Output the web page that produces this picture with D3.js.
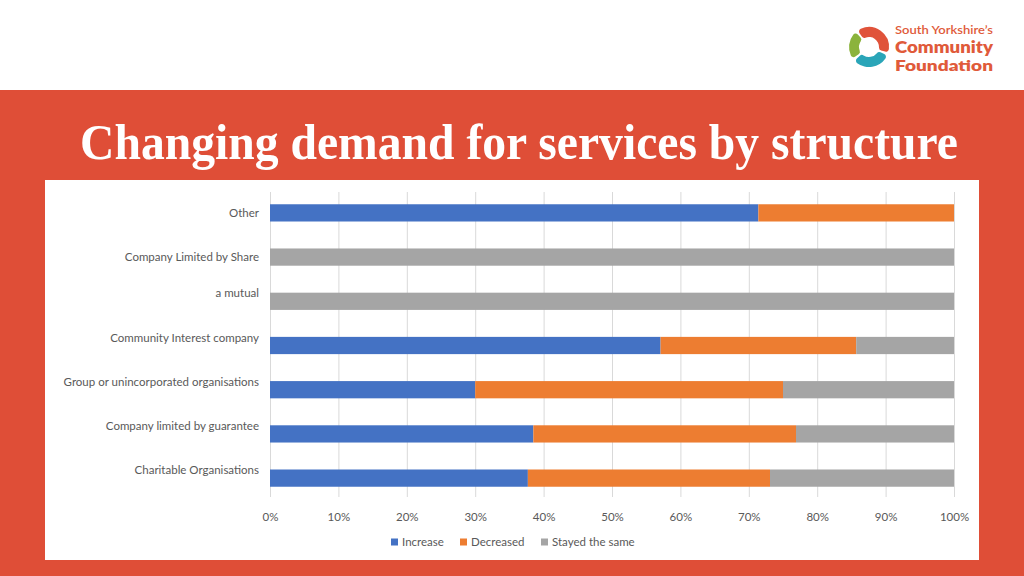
<!DOCTYPE html>
<html><head><meta charset="utf-8">
<script src="https://cdn.jsdelivr.net/npm/d3@7"></script>
<style>html,body{margin:0;padding:0;background:#fff;}svg{display:block;}</style>
</head><body>
<svg id="c" width="1024" height="576"></svg>
<script>
const categories = ["Other","Company Limited by Share","a mutual","Community Interest company","Group or unincorporated organisations","Company limited by guarantee","Charitable Organisations"];
const increase  = [71.4, 0, 0, 57.1, 30.0, 38.5, 37.7];
const decreased = [28.6, 0, 0, 28.6, 45.0, 38.4, 35.4];
const stayed    = [0, 100, 100, 14.3, 25.0, 23.1, 26.9];
const seriesNames = ["Increase","Decreased","Stayed the same"];
const seriesColors = ["#4472C4","#ED7D31","#A5A5A5"];
const ticks = [0,10,20,30,40,50,60,70,80,90,100];
const labelShift = [0,0,-8,-8,-8,-8,-8];

const svg = d3.select("#c");
const red = "#DF4E37";
svg.append("rect").attr("x",0).attr("y",0).attr("width",1024).attr("height",90).attr("fill","#fff");
svg.append("rect").attr("x",0).attr("y",90).attr("width",1024).attr("height",486).attr("fill",red);

// logo
const lg = svg.append("g");
const cx=869, cy=47;
const arc = d3.arc().innerRadius(10).outerRadius(20).cornerRadius(3);
lg.selectAll("path").data([
  {s:-0.6, e:1.85, c:"#E0533A"},
  {s:2.0, e:3.95, c:"#2AA5B8"},
  {s:4.1, e:5.55, c:"#8BB33C"}
]).join("path").attr("transform",`translate(${cx},${cy})`)
  .attr("d",d=>arc({startAngle:d.s,endAngle:d.e})).attr("fill",d=>d.c);
lg.append("text").attr("x",895).attr("y",34).attr("fill","#E05A3A")
  .attr("font-family","Lato").attr("font-weight",600).attr("font-size",12).attr("textLength",98).attr("lengthAdjust","spacingAndGlyphs").text("South Yorkshire\u2019s");
lg.append("text").attr("x",895).attr("y",53).attr("fill","#E05A3A")
  .attr("font-family","Lato").attr("font-weight",800).attr("font-size",16).attr("textLength",98).attr("lengthAdjust","spacingAndGlyphs").text("Community");
lg.append("text").attr("x",895).attr("y",71).attr("fill","#E05A3A")
  .attr("font-family","Lato").attr("font-weight",800).attr("font-size",15.5).attr("textLength",98).attr("lengthAdjust","spacingAndGlyphs").text("Foundation");

// title
svg.append("text").attr("x",80).attr("y",159).attr("fill","#fff")
  .attr("font-family","Liberation Serif").attr("font-weight","bold").attr("font-size",50)
  .attr("textLength",878).attr("lengthAdjust","spacingAndGlyphs")
  .text("Changing demand for services by structure");

// panel
svg.append("rect").attr("x",45).attr("y",180).attr("width",934).attr("height",380).attr("fill","#fff");

const x = d3.scaleLinear().domain([0,100]).range([270,954]);
const y = d3.scaleBand().domain(categories).range([191,500]).paddingInner(0.61).paddingOuter(0.3);

// gridlines
const gx = svg.append("g").attr("transform","translate(0,497)")
  .call(d3.axisBottom(x).tickValues(ticks).tickSize(-305).tickFormat(""));
gx.select(".domain").remove();
gx.selectAll(".tick line").attr("stroke","#D9D9D9").attr("stroke-width",1);

// bars
const rows = categories.map((c,i)=>({cat:c, Increase:increase[i], Decreased:decreased[i], "Stayed the same":stayed[i]}));
const stack = d3.stack().keys(seriesNames)(rows);
svg.append("g").selectAll("g").data(stack).join("g").attr("fill",(d,i)=>seriesColors[i])
  .selectAll("rect").data(d=>d).join("rect")
  .attr("x",d=>x(d[0])).attr("width",d=>Math.max(0,x(Math.min(100,d[1]))-x(d[0])))
  .attr("y",d=>y(d.data.cat)).attr("height",y.bandwidth());

// category labels
svg.append("g").selectAll("text").data(categories).join("text")
  .attr("x",259).attr("y",(d,i)=>y(d)+y.bandwidth()/2+labelShift[i]).attr("dy","0.35em")
  .attr("text-anchor","end").attr("fill","#595959").attr("font-family","Lato").attr("font-size",11.5)
  .text(d=>d);

// x tick labels
const ax = svg.append("g").attr("transform","translate(0,517)")
  .call(d3.axisBottom(x).tickValues(ticks).tickSize(0).tickPadding(0).tickFormat(d=>d+"%"));
ax.select(".domain").remove();
ax.selectAll("text").attr("fill","#595959").attr("font-family","Lato").attr("font-size",11.5).attr("dy","0.35em");

// legend
const legX = [391, 460, 541];
const leg = svg.append("g").selectAll("g").data(seriesNames).join("g")
  .attr("transform",(d,i)=>`translate(${legX[i]},542)`);
leg.append("rect").attr("x",0).attr("y",-3.5).attr("width",7).attr("height",7).attr("fill",(d,i)=>seriesColors[i]);
leg.append("text").attr("x",11).attr("y",0).attr("dy","0.35em").attr("fill","#595959")
  .attr("font-family","Lato").attr("font-size",11.5).text(d=>d);
</script>
</body></html>
